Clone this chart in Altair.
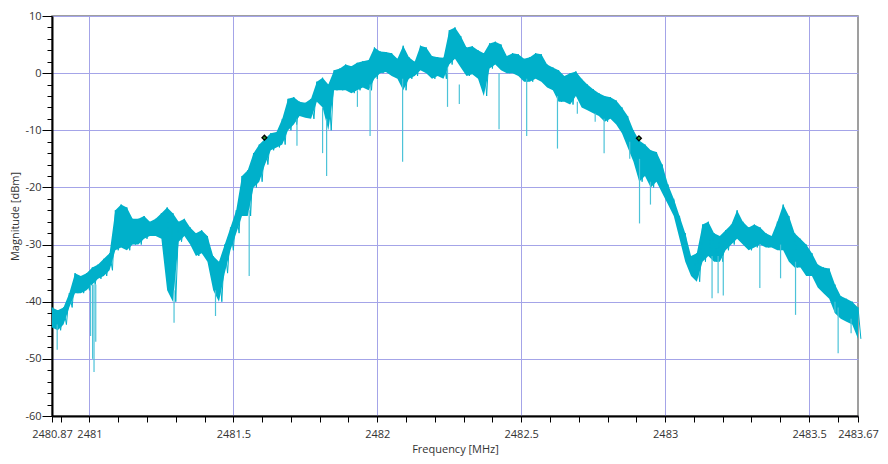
import altair as alt
import pandas as pd

# ---- data ----
f_start = 2480.87
f_step = 0.02
hi = [
    -41, -41.5, -41, -38.5, -35, -35.5, -35, -34, -33.5, -32.5,
    -31.5, -24, -23, -23.5, -25.5, -25.5, -25, -26, -25.5, -24.5,
    -23.5, -24.5, -26, -25.5, -27, -28, -27.5, -28.5, -32, -33,
    -30, -27, -24, -18, -17, -14, -12.5, -11.5, -10.5, -10.3,
    -8, -4.5, -4.2, -5, -5.2, -4.5, -1.5, -0.8, -2, 0.5,
    0.8, 1.5, 1.2, 1.8, 2.1, 2.3, 4.5, 3.8, 3.7, 3.5,
    2.5, 4.8, 2.8, 2, 4.8, 4.5, 3, 2.8, 2.7, 7.5,
    8, 6.5, 4.5, 4.7, 4, 3.5, 5.2, 5.5, 5, 3,
    3.5, 3.3, 2.5, 2.8, 3.5, 3.3, 1.5, 1, 0.5, -0.5,
    0, 0.3, -1, -2, -2.8, -3.5, -4, -4.2, -4.8, -6,
    -7.5, -10, -11.8, -12.5, -13.5, -13.8, -16, -19.5, -22, -25,
    -28, -32, -31.5, -26.5, -26, -28, -28.5, -27.5, -26.5, -24,
    -26, -27, -26.5, -27, -28, -28.5, -26, -23, -25, -28,
    -29, -30, -31.5, -33.5, -34, -34.2, -37, -39, -39.5, -40,
    -41,
]
lo = [
    -44.5, -45, -44, -41, -38.5, -38.5, -38, -37, -36, -35.5,
    -34.5, -31, -30.5, -31, -30, -30, -29, -28.5, -28.5, -29,
    -38, -40, -29.5, -28.5, -30, -32, -31.5, -33, -38, -40,
    -35, -31, -28, -25, -25, -20, -19, -16, -13.5, -13,
    -12.5, -10, -9, -7.5, -7.8, -8, -5, -6, -10, -3,
    -3, -3, -3.5, -3, -2.5, -3, -1, 0, 0.2, -0.5,
    -1, -3, -1, -0.5, 0.5, 0, -1, -0.5, -1, 1.5,
    2.5, 1, -0.5, -0.2, -1, -4, 0.8, 1.5, 0.5, 0,
    0, -0.5, -1.5, -1.5, -1, -1.5, -2.5, -3, -5, -5,
    -5.5, -4, -6, -6.5, -7, -7.5, -8.5, -8, -9, -10.5,
    -13, -15.5, -19, -18, -20, -19, -21, -23, -25, -29,
    -33, -35.5, -36.5, -33, -32, -33, -33, -31, -30, -29,
    -30, -31, -30.5, -30, -30.5, -30.5, -31, -31, -33, -34,
    -34, -35.5, -35.5, -37.5, -38.5, -39.5, -42, -43, -43.5, -44,
    -46.5,
]
freq = [round(f_start + i * f_step, 2) for i in range(len(hi))]
freq_mid = [round(f_start + i * f_step + f_step / 2, 3) for i in range(len(lo))]

spike_f = [2480.888, 2481.004, 2481.011, 2481.016, 2481.022, 2481.294, 2481.438,
           2481.555, 2481.721, 2481.810, 2481.824, 2481.931, 2481.975, 2482.088,
           2482.244, 2482.285, 2482.423, 2482.519, 2482.626, 2482.695, 2482.757,
           2482.788, 2482.877, 2482.911, 2482.949, 2483.163, 2483.184, 2483.202,
           2483.329, 2483.401, 2483.453, 2483.590, 2483.601, 2483.646]
spike_top = [-44, -37, -37, -37, -37, -38, -38, -24, -8, -6, -8, -3, -2, -1,
             1, -2, 0, -1, -4, -5, -7, -8, -12, -15, -19, -32, -32, -32,
             -30, -30, -33, -40, -41, -43]
spike_bot = [-48.4, -46, -50, -52.3, -47, -43.7, -42.5, -35.5, -12.7, -14, -18,
             -5.9, -11, -15.5, -5.9, -5.4, -9.8, -11, -13.2, -7.1, -8.5, -14,
             -15, -26.3, -23, -39.4, -38.5, -38.9, -37.6, -35.9, -42.3, -41.9,
             -49, -45.5]

marker_f = [2481.608, 2482.909]
marker_v = [-11.3, -11.4]

x_major = [2480.87, 2481, 2481.5, 2482, 2482.5, 2483, 2483.5, 2483.67]
x_minor = [round(2480.9 + 0.1 * k, 1) for k in range(28)]
x_ticks = sorted(set(x_major) | set(x_minor))
y_ticks = list(range(-60, 11, 2))

# ---- build ----
CYAN = "#00b0ca"
LIGHT = "#4cc3d8"
GRID = "#a4a4e8"
FONT = "Open Sans"

band = pd.DataFrame({"f": freq, "hi": hi, "lo": lo})
zig = pd.DataFrame({
    "f": [v for pair in zip(freq, freq_mid) for v in pair],
    "v": [v for pair in zip(hi, lo) for v in pair],
})
spikes = pd.DataFrame({"f": spike_f, "top": spike_top, "bot": spike_bot})
markers = pd.DataFrame({"f": marker_f, "v": marker_v})

xscale = alt.Scale(domain=[x_major[0], x_major[-1]], nice=False, zero=False)
yscale = alt.Scale(domain=[-60, 10], nice=False, zero=False)

major_js = "[" + ",".join(str(v) for v in x_major) + "]"

xaxis = alt.Axis(
    values=x_ticks,
    tickCount=200,
    labelExpr=f"indexof({major_js}, datum.value) >= 0 ? '' + datum.value : ''",
    title="Frequency [MHz]",
    grid=True,
    gridColor=GRID,
    gridWidth=1,
    gridOpacity={"condition": {"test": "abs(datum.value*2 - round(datum.value*2)) < 0.001", "value": 1}, "value": 0},
    tickSize=6,
    tickColor="black",
    tickWidth=1,
    domainColor="black",
    domainWidth=2,
    labelFont=FONT,
    labelFontSize=11,
    labelColor="#333333",
    labelPadding=6,
    labelOverlap=False,
    labelFlush=False,
    titleFont=FONT,
    titleFontSize=11,
    titleFontWeight="normal",
    titleColor="#333333",
    titlePadding=4,
)
yaxis = alt.Axis(
    values=y_ticks,
    tickCount=200,
    labelExpr="datum.value % 10 === 0 ? '' + datum.value : ''",
    title="Magnitude [dBm]",
    grid=True,
    gridColor=GRID,
    gridWidth=1,
    gridOpacity={"condition": {"test": "datum.value % 10 === 0", "value": 1}, "value": 0},
    tickSize={"condition": {"test": "datum.value % 10 === 0", "value": 10}, "value": 5},
    tickColor="black",
    tickWidth=1,
    domainColor="black",
    domainWidth=2,
    labelFont=FONT,
    labelFontSize=11,
    labelColor="#333333",
    labelPadding=1,
    labelOverlap=False,
    labelFlush=False,
    titleFont=FONT,
    titleFontSize=11,
    titleFontWeight="normal",
    titleColor="#333333",
    titlePadding=4,
)

area = alt.Chart(band).mark_area(color=CYAN, opacity=1, interpolate="linear").encode(
    x=alt.X("f:Q", scale=xscale, axis=xaxis),
    y=alt.Y("hi:Q", scale=yscale, axis=yaxis),
    y2="lo:Q",
)
line = alt.Chart(zig).mark_line(color=CYAN, strokeWidth=1.0).encode(
    x="f:Q", y="v:Q", order="f:Q"
)
rules = alt.Chart(spikes).mark_rule(color=LIGHT, strokeWidth=1.2).encode(
    x="f:Q", y="top:Q", y2="bot:Q"
)
mk = alt.Chart(markers).mark_point(shape="diamond", filled=True, color="black", size=45, opacity=1).encode(
    x="f:Q", y="v:Q"
)
mk2 = alt.Chart(markers).mark_point(shape="circle", filled=True, color="#2f8f2f", size=6, opacity=1).encode(
    x="f:Q", y="v:Q"
)

chart = alt.layer(area, line, rules, mk, mk2).properties(
    width=806,
    height=400,
    autosize=alt.AutoSizeParams(type="none"),
    padding={"left": 44, "top": 8, "right": 22, "bottom": 40},
    background="white",
).configure_view(stroke="#808080", strokeWidth=1.5)

chart.save("out.html", embed_options={"renderer": "svg", "actions": False})
